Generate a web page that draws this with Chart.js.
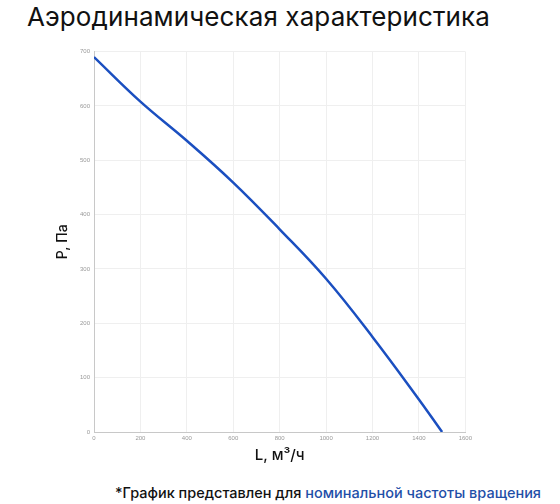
<!DOCTYPE html>
<html>
<head>
<meta charset="utf-8">
<script src="https://cdn.jsdelivr.net/npm/chart.js@4/dist/chart.umd.min.js"></script>
<style>
  body { margin: 0; width: 560px; height: 504px; background: #fff; position: relative; overflow: hidden; font-family: Inter, "Noto Sans", sans-serif; }
  #title { position: absolute; left: 27px; top: 1px; font-size: 26px; color: #111; white-space: nowrap; letter-spacing: 0.1px; }
  #wrap { position: absolute; left: 50px; top: 44px; width: 425px; height: 424px; }
  #note { position: absolute; left: 115px; top: 484px; font-size: 14.5px; font-weight: 500; color: #111; white-space: nowrap; }
  #note span { color: #1f4fa8; }
</style>
</head>
<body>
<div id="title">Аэродинамическая характеристика</div>
<div id="wrap"><canvas id="chart"></canvas></div>
<div id="note">*График представлен для <span>номинальной частоты вращения</span></div>
<script>
// расход воздуха, м3/ч и давление, Па
var flow = [0, 200, 400, 600, 800, 1000, 1200, 1400, 1500];
var pressure = [690, 608, 536, 459, 373, 282, 175, 60, 0];

var xTitle = 'L, м³/ч';
var yTitle = 'P, Па';

var points = flow.map(function (l, i) { return { x: l, y: pressure[i] }; });

var ctx = document.getElementById('chart').getContext('2d');
new Chart(ctx, {
    type: 'line',
    data: {
        datasets: [{
            data: points,
            borderColor: '#1b4fc0',
            borderWidth: 2.5,
            pointRadius: 0,
            fill: false,
            tension: 0.4
        }]
    },
    options: {
        responsive: true,
        maintainAspectRatio: false,
        animation: false,
        layout: { padding: { top: 4, right: 0 } },
        plugins: { legend: { display: false }, tooltip: { enabled: false } },
        scales: {
            x: {
                type: 'linear',
                min: 0,
                max: 1600,
                ticks: { stepSize: 200, font: { size: 6 }, color: '#999', padding: 3, maxRotation: 0,
                    callback: function (v) { return v; } },
                grid: { color: '#efefef', drawTicks: false },
                border: { color: '#c8c8c8' },
                title: { display: true, text: xTitle, color: '#111', font: { size: 15, weight: 500, family: 'Inter' }, padding: { top: 4 } },
                afterFit: function (s) { s.height = 36; }
            },
            y: {
                min: 0,
                max: 700,
                ticks: { stepSize: 100, font: { size: 6 }, color: '#999', padding: 4,
                    callback: function (v) { return v; } },
                grid: { color: '#efefef', drawTicks: false },
                border: { color: '#c8c8c8' },
                title: { display: true, text: yTitle, color: '#111', font: { size: 14, weight: 500, family: 'Inter' } },
                afterFit: function (s) { s.width = 44; }
            }
        }
    }
});
</script>
</body>
</html>
